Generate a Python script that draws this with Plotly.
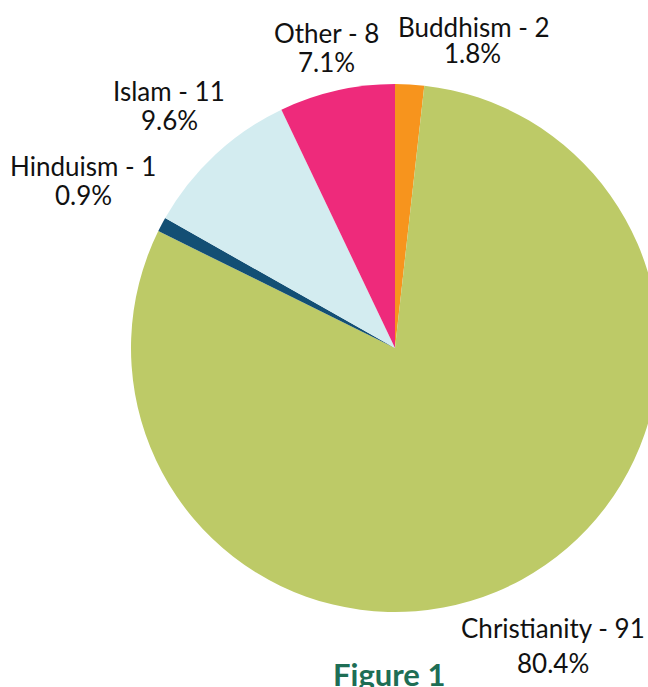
import plotly.graph_objects as go

# Data
religions = ["Buddhism", "Christianity", "Hinduism", "Islam", "Other"]
counts = [2, 91, 1, 11, 8]
percent_labels = ["1.8%", "80.4%", "0.9%", "9.6%", "7.1%"]
colors = ["#F7941D", "#BDCA67", "#134F74", "#D3ECF0", "#EE2A7B"]
title_text = "Figure 1"

# Layout (pixel geometry)
W, H = 790, 687
cx, cy, R = 395, 348, 264

fig = go.Figure(go.Pie(
    labels=religions,
    values=counts,
    sort=False,
    direction="clockwise",
    rotation=0,
    marker=dict(colors=colors, line=dict(width=0)),
    textinfo="none",
    hoverinfo="label+value+percent",
    showlegend=False,
    domain=dict(x=[(cx - R) / W, (cx + R) / W], y=[(H - cy - R) / H, (H - cy + R) / H]),
))

# label line centres (pixels): (x1, y1, x2, y2)
label_pos = {
    "Buddhism": (473.5, 26.7, 472, 53.3),
    "Christianity": (552.5, 628, 552.5, 663),
    "Hinduism": (83.3, 166, 83.3, 195),
    "Islam": (168.7, 91, 169, 120),
    "Other": (326.7, 32.7, 326, 62.3),
}

FONT = dict(family="Lato", size=26, color="#111111")
annotations = []
for name, c, p in zip(religions, counts, percent_labels):
    x1, y1, x2, y2 = label_pos[name]
    for txt, px, py in ((f"{name} - {c}", x1, y1), (p, x2, y2)):
        annotations.append(dict(
            text=txt, x=px / W, y=1 - py / H, xref="paper", yref="paper",
            xanchor="center", yanchor="middle", showarrow=False,
            font=FONT,
        ))

annotations.append(dict(
    text=f"<b>{title_text}</b>", x=388.7 / W, y=1 - 673.5 / H, xref="paper", yref="paper",
    xanchor="center", yanchor="middle", showarrow=False,
    font=dict(family="Lato", size=31, color="#1E6E55"),
))

fig.update_layout(
    width=W, height=H,
    margin=dict(l=0, r=0, t=0, b=0),
    paper_bgcolor="white",
    plot_bgcolor="white",
    annotations=annotations,
)

fig.write_html(
    "out.html",
    post_script="document.documentElement.style.overflow='hidden';document.body.style.overflow='hidden';",
)
